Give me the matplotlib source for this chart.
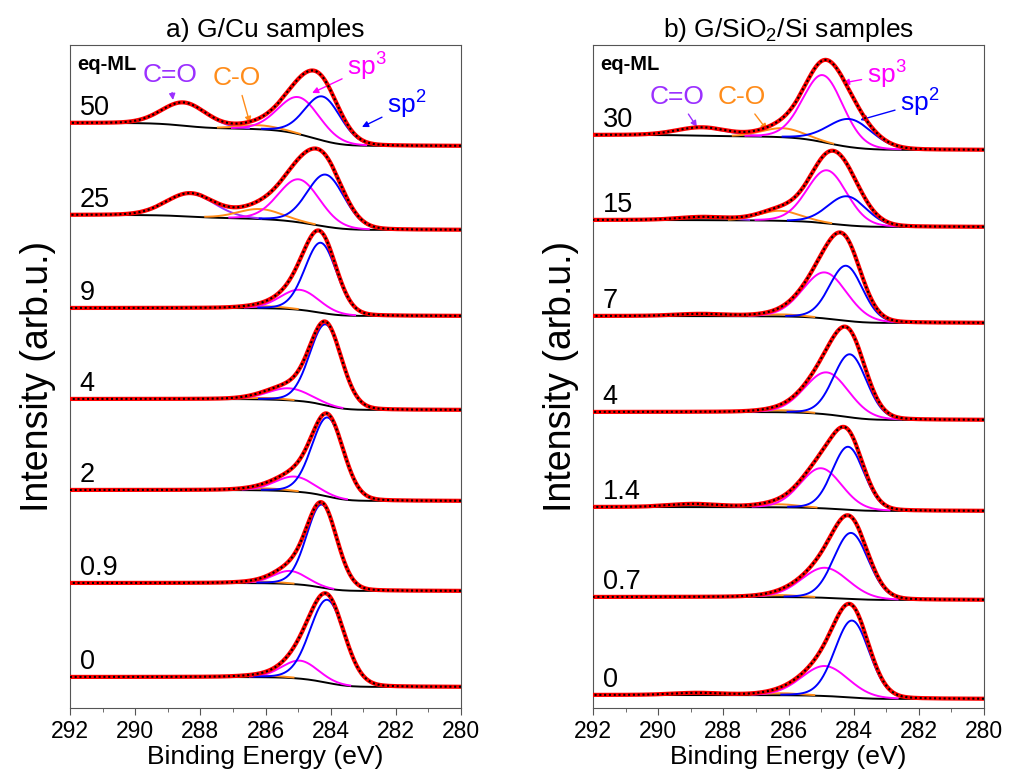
#%%
import numpy as np
from matplotlib import pyplot as plt

plt.rcParams['font.family'] = ['Liberation Sans', 'DejaVu Sans']
plt.rcParams['mathtext.fontset'] = 'custom'
plt.rcParams['mathtext.rm'] = 'Liberation Sans'
plt.rcParams['mathtext.it'] = 'Liberation Sans:italic'
plt.rcParams['mathtext.bf'] = 'Liberation Sans:bold'

# Binding energy grid (eV)
E = np.linspace(280, 292, 1201)

# ---- a) G/Cu samples (offset spectra, arb. units) ----
ml_a = ['50', '25', '9', '4', '2', '0.9', '0']
bg_hi_a = [585, 493, 400, 309, 218, 125, 31]   # background level at 292 eV
bg_lo_a = [562, 478, 392, 298, 207, 117, 21]   # background level at 280 eV
# fitted components, one tuple per sample: (centre eV, height, FWHM eV)
sp2_a = [(284.24, 44, 1.3), (284.15, 52, 1.35), (284.30, 70, 1.15), (284.15, 81, 1.15),
         (284.09, 79, 1.15), (284.27, 83, 1.1), (284.10, 83, 1.25)]
sp3_a = [(284.97, 37, 1.5), (284.97, 43, 1.5), (284.94, 20, 1.4), (285.28, 12, 1.5),
         (285.10, 15, 1.4), (285.25, 13, 1.2), (284.94, 18, 1.3)]
co_a = [(286.2, 4, 1.5), (286.17, 10, 1.6), (286.0, 2, 1.5), (286.0, 1.5, 1.5),
        (286.0, 2, 1.5), (286.0, 1.5, 1.5), (286.0, 1.5, 1.5)]
cdo_a = [(288.5, 23, 1.6), (288.3, 23, 1.75), (288.5, 0, 1.6), (288.5, 0, 1.6),
         (288.5, 0, 1.6), (288.5, 0, 1.6), (288.5, 0, 1.6)]

# ---- b) G/SiO2/Si samples ----
ml_b = ['30', '15', '7', '4', '1.4', '0.7', '0']
bg_hi_b = [573, 488, 392, 296, 201, 111, 13]
bg_lo_b = [558, 481, 385, 288, 197, 108, 9]
sp2_b = [(284.11, 28, 1.6), (284.20, 29, 1.4), (284.23, 55, 1.2), (284.11, 63, 1.2),
         (284.17, 63, 1.15), (284.08, 66, 1.25), (284.05, 77, 1.25)]
sp3_b = [(284.94, 67, 1.45), (284.82, 53, 1.45), (284.88, 46, 1.6), (284.82, 42, 1.6),
         (285.00, 40, 1.5), (284.88, 30, 1.7), (284.88, 30, 1.7)]
co_b = [(286.17, 9, 1.5), (286.26, 10, 1.5), (286.2, 2, 1.5), (286.2, 2, 1.5),
        (286.3, 3, 1.5), (286.2, 2, 1.5), (286.2, 2, 1.5)]
cdo_b = [(288.65, 8, 1.8), (288.6, 3, 1.8), (288.7, 2, 1.8), (288.7, 0, 1.8),
         (288.9, 3, 1.8), (288.7, 0, 1.8), (288.8, 2, 1.8)]

colors = {'cdo': '#9B30FF', 'co': '#FF8C1A', 'sp3': '#FF00FF', 'sp2': '#0000FF'}


def peak(x, c, h, w, eta=0.1):
    # pseudo-Voigt line shape
    s = w / 2.3548
    g = np.exp(-0.5 * ((x - c) / s) ** 2)
    l = 1 / (1 + ((x - c) / (w / 2)) ** 2)
    return h * ((1 - eta) * g + eta * l)


def draw_panel(ax, ml, bg_hi, bg_lo, sp2, sp3, co, cdo):
    for i in range(len(ml)):
        comps = {'cdo': peak(E, *cdo[i]), 'co': peak(E, *co[i]),
                 'sp3': peak(E, *sp3[i]), 'sp2': peak(E, *sp2[i])}
        tot = sum(comps.values())
        # Shirley-type step background
        cum = np.cumsum(tot)
        bg = bg_lo[i] + (bg_hi[i] - bg_lo[i]) * cum / cum[-1]
        ax.plot(E, bg, color='black', lw=1.4, zorder=2)
        for k, p in comps.items():
            y = np.where(p > 0.6, bg + p, np.nan)
            ax.plot(E, y, color=colors[k], lw=1.4, zorder=3)
        ax.plot(E, bg + tot, color='red', lw=3, zorder=4)
        ax.plot(E, bg + tot, color='black', lw=1.5, ls=(0, (1, 1.3)), zorder=5)
        ax.text(291.7, bg_hi[i] + 8, ml[i], fontsize=19.5, ha='left', va='baseline')
    ax.set_xlim(292, 280)
    ax.set_ylim(0, 663)
    ax.set_yticks([])
    ax.set_xticks(np.arange(280, 293, 2))
    ax.set_xticks(np.arange(280, 293, 1), minor=True)
    ax.tick_params(axis='x', which='major', direction='out', length=5, labelsize=16.5, pad=4, color='#555555')
    ax.tick_params(axis='x', which='minor', direction='out', length=3, color='#555555')
    for sp in ax.spines.values():
        sp.set_color('#555555')
    ax.set_xlabel('Binding Energy (eV)', fontsize=19, labelpad=1)
    ax.set_ylabel('Intensity (arb.u.)', fontsize=27, labelpad=10)
    ax.text(291.78, 643, 'eq-ML', fontsize=14.5, fontweight='bold', ha='left', va='center')


fig = plt.figure(figsize=(10.15, 7.74), dpi=100)
axa = fig.add_axes([70 / 1015, 66 / 774, 391 / 1015, 663 / 774])
axb = fig.add_axes([593 / 1015, 66 / 774, 391 / 1015, 663 / 774])

draw_panel(axa, ml_a, bg_hi_a, bg_lo_a, sp2_a, sp3_a, co_a, cdo_a)
draw_panel(axb, ml_b, bg_hi_b, bg_lo_b, sp2_b, sp3_b, co_b, cdo_b)

axa.set_title('a) G/Cu samples', fontsize=19, pad=6)
axb.set_title('b) G/SiO$_2$/Si samples', fontsize=19, pad=6)

arr = dict(arrowstyle='-|>', lw=1, mutation_scale=9, shrinkA=2, shrinkB=0)
# labels of the fitted components
axa.annotate('C=O', (288.84, 608), (288.93, 633), color=colors['cdo'], fontsize=19,
             ha='center', va='center', arrowprops=dict(arr, color=colors['cdo']))
axa.annotate('C-O', (286.48, 585), (286.87, 630), color=colors['co'], fontsize=19,
             ha='center', va='center', arrowprops=dict(arr, color=colors['co']))
axa.annotate('sp$^3$', (284.57, 615), (282.88, 641), color=colors['sp3'], fontsize=19,
             ha='center', va='center', arrowprops=dict(arr, color=colors['sp3']))
axa.annotate('sp$^2$', (283.04, 581), (281.66, 603), color=colors['sp2'], fontsize=19,
             ha='center', va='center', arrowprops=dict(arr, color=colors['sp2']))

axb.annotate('C=O', (288.81, 581), (289.42, 611), color=colors['cdo'], fontsize=19,
             ha='center', va='center', arrowprops=dict(arr, color=colors['cdo']))
axb.annotate('C-O', (286.66, 578), (287.43, 611), color=colors['co'], fontsize=19,
             ha='center', va='center', arrowprops=dict(arr, color=colors['co']))
axb.annotate('sp$^3$', (284.33, 625), (282.98, 633), color=colors['sp3'], fontsize=19,
             ha='center', va='center', arrowprops=dict(arr, color=colors['sp3']))
axb.annotate('sp$^2$', (283.8, 588), (281.96, 605), color=colors['sp2'], fontsize=19,
             ha='center', va='center', arrowprops=dict(arr, color=colors['sp2']))

plt.savefig('out.png', dpi=100)
